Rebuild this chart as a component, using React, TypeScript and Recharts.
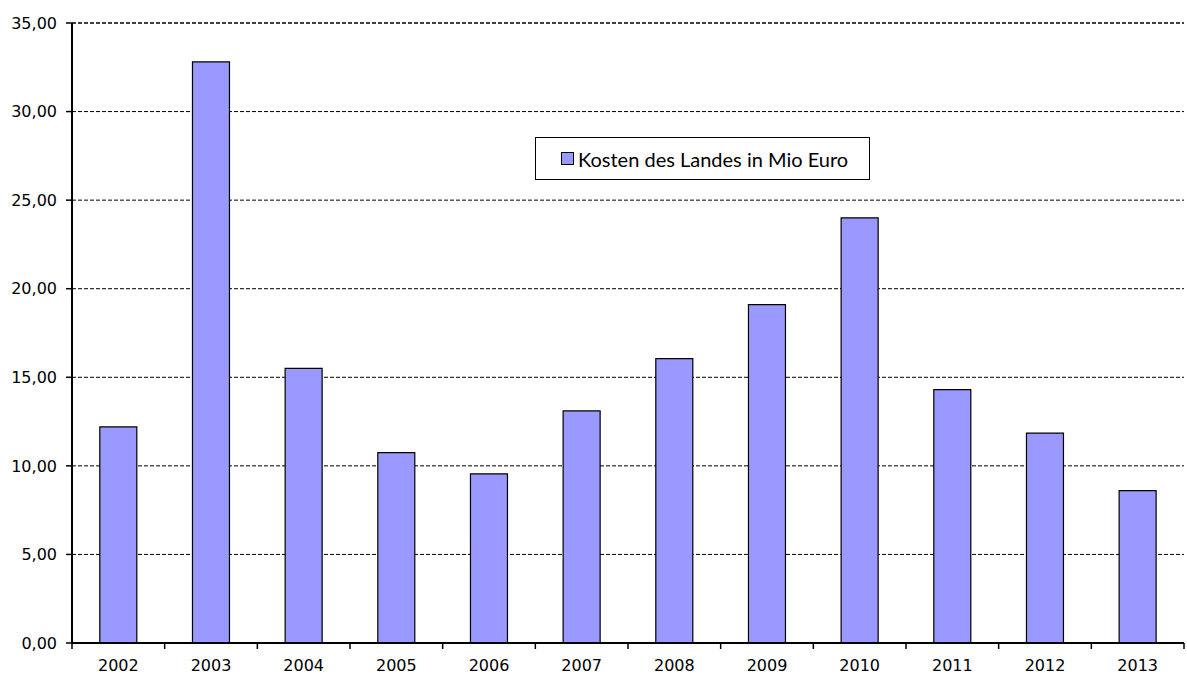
import React from 'react';
import { BarChart, Bar, XAxis, YAxis, CartesianGrid, Legend, ReferenceLine } from 'recharts';

const years = ['2002', '2003', '2004', '2005', '2006', '2007', '2008', '2009', '2010', '2011', '2012', '2013'];
const kosten = [12.2, 32.8, 15.5, 10.75, 9.55, 13.1, 16.05, 19.1, 24.0, 14.3, 11.85, 8.6];
const yTicks = [0, 5, 10, 15, 20, 25, 30, 35];
const seriesName = 'Kosten des Landes in Mio Euro';

const data = years.map((year, i) => ({ year, value: kosten[i] }));

const W = 1187;
const H = 677;
const M = { top: 23, right: 3, left: 0, bottom: 0 };
const Y_W = 72;
const X_H = 34;
const band = (W - M.left - M.right - Y_W) / years.length;

const tickFont = 'DejaVu Sans, Verdana, sans-serif';

function YearTick(props: any) {
  const { x, y, payload, index } = props;
  const left = x - band / 2;
  return (
    <g>
      <line x1={left} y1={y - 8} x2={left} y2={y - 2} stroke="#000" strokeWidth={1.5} />
      {index === years.length - 1 && (
        <line x1={x + band / 2} y1={y - 8} x2={x + band / 2} y2={y - 2} stroke="#000" strokeWidth={1.5} />
      )}
      <text x={x} y={y + 20} textAnchor="middle" fontFamily={tickFont} fontSize={16} fill="#000">
        {payload.value}
      </text>
    </g>
  );
}

function LegendBox() {
  return (
    <div
      style={{
        boxSizing: 'border-box',
        width: 335,
        height: 43,
        border: '1px solid #000',
        background: '#fff',
        display: 'flex',
        alignItems: 'center',
        paddingLeft: 25,
        fontFamily: 'Lato, "Open Sans", sans-serif',
        fontSize: 20,
        color: '#000',
        whiteSpace: 'nowrap',
      }}
    >
      <span
        style={{
          display: 'inline-block',
          width: 11,
          height: 11,
          background: '#9999ff',
          border: '1px solid #000',
          marginRight: 4,
        }}
      />
      {seriesName}
    </div>
  );
}

export default function App() {
  return (
    <div style={{ position: 'absolute', left: 0, top: 0, width: W, height: H, background: '#fff' }}>
      <BarChart width={W} height={H} data={data} margin={M} barCategoryGap="30%">
        <CartesianGrid vertical={false} stroke="#000" strokeDasharray="4 2" strokeWidth={1} />
        <XAxis
          dataKey="year"
          height={X_H}
          axisLine={{ stroke: '#000', strokeWidth: 2 }}
          tickLine={false}
          tick={<YearTick />}
          interval={0}
        />
        <YAxis
          width={Y_W}
          domain={[0, 35]}
          ticks={yTicks}
          interval={0}
          axisLine={{ stroke: '#000', strokeWidth: 2 }}
          tickLine={{ stroke: '#000', strokeWidth: 1.5 }}
          tickSize={6}
          tickMargin={9}
          tickFormatter={(v: number) => v.toFixed(2).replace('.', ',')}
          tick={{ fill: '#000', fontSize: 16, fontFamily: tickFont }}
        />
        <ReferenceLine y={35} stroke="#000" strokeDasharray="4 2" />
        <Legend
          layout="horizontal"
          align="center"
          verticalAlign="middle"
          content={<LegendBox />}
          wrapperStyle={{ left: 535, top: 137, width: 335, height: 43 }}
        />
        <Bar
          dataKey="value"
          name={seriesName}
          fill="#9999ff"
          stroke="#000"
          strokeWidth={1.2}
          isAnimationActive={false}
        />
      </BarChart>
    </div>
  );
}
